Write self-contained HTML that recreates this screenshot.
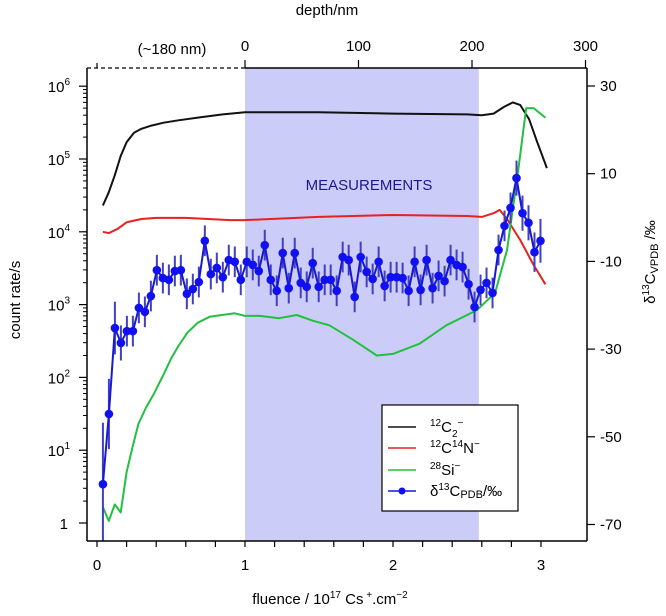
<!DOCTYPE html>
<html><head><meta charset="utf-8"><style>
body{margin:0;background:#fff;width:666px;height:611px;overflow:hidden}
svg{font-family:"Liberation Sans",sans-serif}
</style></head><body>
<svg id="chart" width="666" height="611"></svg>
<script>
const fluence = [];
const delta = [-60.8,-44.8,-25.2,-28.6,-25.9,-25.9,-20.6,-21.5,-17.9,-12,-13.8,-14.2,-12.2,-12,-17.4,-16.3,-14.7,-5.3,-12.9,-11.5,-13.6,-9.7,-10.1,-14.2,-10.1,-10.8,-12.2,-6.3,-14.2,-16.7,-8.1,-16.1,-8.1,-14.9,-15.8,-10.4,-15.8,-14.2,-14.2,-16.7,-9,-9.7,-18.1,-9,-12.4,-14,-10.1,-15.6,-13.6,-13.6,-13.8,-16.7,-10.1,-16.5,-9.7,-16.1,-13.3,-14.5,-9.7,-10.8,-11.3,-15.2,-20.4,-16.5,-14.9,-17.2,-7.4,-1.9,2.2,9,1,-1.2,-7.9,-5.3];
const deltaErr = [14,8,6,4,3.5,3.5,3.5,3.5,3.5,3.5,3.5,3.5,3.5,3.5,3.5,3.5,3.5,3.5,3.5,3.5,3.5,3.5,3.5,3.5,3.5,3.5,3.5,3.5,3.5,3.5,3.5,3.5,3.5,3.5,3.5,3.5,3.5,3.5,3.5,3.5,3.5,3.5,3.5,3.5,3.5,3.5,3.5,3.5,3.5,3.5,3.5,3.5,3.5,3.5,3.5,3.5,3.5,3.5,3.5,3.5,3.5,3.5,3.5,3.5,3.5,3.5,3.5,3.5,3.5,4,4,4,4.5,5];
for (let i=0;i<delta.length;i++) fluence.push(+(0.04+0.0405*i).toFixed(4));
const c2X = [0.04,0.08,0.12,0.16,0.2,0.25,0.3,0.36,0.45,0.55,0.7,0.85,1.0,1.5,2.0,2.5,2.6,2.68,2.75,2.81,2.86,2.92,2.97,3.04];
const c2Y = [2.3e4,3.5e4,6e4,1.1e5,1.7e5,2.3e5,2.6e5,2.85e5,3.15e5,3.4e5,3.75e5,4.1e5,4.4e5,4.4e5,4.2e5,4.1e5,4.0e5,4.2e5,5.2e5,6.0e5,5.5e5,3.5e5,1.8e5,7.5e4];
const cnX = [0.04,0.08,0.14,0.2,0.3,0.4,0.6,0.9,1.0,1.5,2.0,2.5,2.6,2.68,2.72,2.77,2.86,2.95,3.03];
const cnY = [1e4,9.6e3,1.1e4,1.35e4,1.5e4,1.55e4,1.55e4,1.45e4,1.45e4,1.6e4,1.7e4,1.65e4,1.6e4,1.8e4,2e4,1.5e4,7.7e3,3.5e3,1.9e3];
const siX = [0.04,0.08,0.12,0.16,0.2,0.24,0.28,0.33,0.385,0.45,0.5,0.55,0.61,0.68,0.76,0.93,1.0,1.1,1.23,1.35,1.46,1.57,1.73,1.89,2.0,2.18,2.36,2.54,2.57,2.69,2.77,2.84,2.9,2.95,3.03];
const siY = [1.65,1.07,1.8,1.4,5,11,23,38,60,110,180,270,410,560,680,760,700,700,650,720,600,520,330,200,210,290,520,790,850,1450,5600,5.6e4,5e5,5e5,3.7e5];
const xTicks = [0,1,2,3];
const depthTicks = [0,100,200,300];
const rightTicks = [30,10,-10,-30,-50,-70];

const svg = document.getElementById('chart');
const NS = 'http://www.w3.org/2000/svg';
const L=87,R=587,T=68,B=541;
const xs = f => 97 + f*148;
const ys = v => 523 - 72.8*Math.log10(v);
const yd = d => 86 + (30-d)*4.385;
const xdep = n => 245 + n*1.135;
function mk(tag, attrs, parent){const e=document.createElementNS(NS,tag);for(const k in attrs)e.setAttribute(k,attrs[k]);(parent||svg).appendChild(e);return e;}

let e;
e=mk('rect',{x:xs(1),y:T,width:xs(2.58)-xs(1),height:B-T,fill:'#ccccf8'});


e=mk('text',{x:369,y:190,'text-anchor':'middle','font-size':15,fill:'#1a1a8c'});e.textContent='MEASUREMENTS';



function line(xa,ya,color,name){
  let d='';for(let i=0;i<xa.length;i++)d+=(i?'L':'M')+xs(xa[i]).toFixed(1)+','+ys(ya[i]).toFixed(1);
  const p=mk('path',{d:d,fill:'none',stroke:color,'stroke-width':2,'stroke-linejoin':'round'});
  
  
}
line(c2X,c2Y,'#111','c2-line');
line(cnX,cnY,'#e82020','cn-line');
line(siX,siY,'#22c040','si-line');

const g=mk('g',{});


for(let i=0;i<delta.length;i++){
  const lo=Math.min(B,yd(delta[i]-deltaErr[i]));
  e=mk('line',{x1:xs(fluence[i]),x2:xs(fluence[i]),y1:yd(delta[i]+deltaErr[i]),y2:lo,stroke:'#4040c0','stroke-width':2},g);
  
  
}
let dd='';for(let i=0;i<delta.length;i++)dd+=(i?'L':'M')+xs(fluence[i]).toFixed(1)+','+yd(delta[i]).toFixed(1);
mk('path',{d:dd,fill:'none',stroke:'#1818d8','stroke-width':2},g);
for(let i=0;i<delta.length;i++){
  e=mk('circle',{cx:xs(fluence[i]),cy:yd(delta[i]),r:4.3,fill:'#1010f0'},g);
  
  
}

mk('line',{x1:L,y1:T,x2:L,y2:B,stroke:'#000','stroke-width':1.5});
mk('line',{x1:L,y1:B,x2:R,y2:B,stroke:'#000','stroke-width':1.5});
mk('line',{x1:R,y1:T,x2:R,y2:B,stroke:'#000','stroke-width':1.5});
mk('line',{x1:L,y1:T,x2:245,y2:T,stroke:'#000','stroke-width':1.2,'stroke-dasharray':'4,3'});
mk('line',{x1:245,y1:T,x2:R,y2:T,stroke:'#000','stroke-width':1.5});
mk('line',{x1:97,y1:T,x2:97,y2:T-5,stroke:'#000','stroke-width':1.2});

for(let f=0;f<=3.01;f+=0.2){mk('line',{x1:xs(f),x2:xs(f),y1:B,y2:B+6,stroke:'#000','stroke-width':1.2});}
xTicks.forEach(t=>{e=mk('text',{x:xs(t),y:570,'text-anchor':'middle','font-size':15});e.textContent=t;

});
e=mk('text',{x:330,y:604,'text-anchor':'middle','font-size':15});
e.innerHTML='fluence / 10<tspan dy="-6" font-size="10">17</tspan><tspan dy="6"> Cs</tspan><tspan dy="-6" font-size="10"> +</tspan><tspan dy="6">.cm</tspan><tspan dy="-6" font-size="10">−2</tspan>';



depthTicks.forEach(t=>{mk('line',{x1:xdep(t),x2:xdep(t),y1:T,y2:T-8,stroke:'#000','stroke-width':1.2});
e=mk('text',{x:xdep(t),y:51,'text-anchor':'middle','font-size':15});e.textContent=t;

});
e=mk('text',{x:172,y:54,'text-anchor':'middle','font-size':15});e.textContent='(~180 nm)';


e=mk('text',{x:327,y:15,'text-anchor':'middle','font-size':15});e.textContent='depth/nm';



for(let p=0;p<=6;p++){
  mk('line',{x1:L-8,x2:L,y1:ys(Math.pow(10,p)),y2:ys(Math.pow(10,p)),stroke:'#000','stroke-width':1.2});
  if(p<6)for(let k=2;k<10;k++){const y=ys(k*Math.pow(10,p));mk('line',{x1:L-4,x2:L,y1:y,y2:y,stroke:'#000','stroke-width':1});}
  e=mk('text',{x:68,y:ys(Math.pow(10,p))+6,'text-anchor':'end','font-size':15});
  if(p===0){e.textContent='1';}
  else {e.setAttribute('x',70);e.innerHTML='10<tspan dy="-7" font-size="10">'+p+'</tspan>';}
  
  
}
e=mk('text',{x:0,y:0,'text-anchor':'middle','font-size':15,transform:'translate(20,300) rotate(-90)'});e.textContent='count rate/s';



rightTicks.forEach(t=>{mk('line',{x1:R,x2:R+8,y1:yd(t),y2:yd(t),stroke:'#000','stroke-width':1.2});
e=mk('text',{x:600,y:yd(t)+5,'font-size':15});e.textContent=(t<0?'-':'')+Math.abs(t);

});
e=mk('text',{x:0,y:0,'text-anchor':'middle','font-size':15,transform:'translate(655,262) rotate(-90)'});
e.innerHTML='δ<tspan dy="-6" font-size="10">13</tspan><tspan dy="6">C</tspan><tspan font-size="11" dy="3">VPDB</tspan><tspan dy="-3"> /‰</tspan>';



const lg=mk('g',{});


mk('rect',{x:382,y:405,width:136,height:106,fill:'#fff',stroke:'#000','stroke-width':1.2},lg);
const entries=[['#111','<tspan font-size="10" dy="-6">12</tspan><tspan dy="6">C</tspan><tspan font-size="10" dy="5">2</tspan><tspan font-size="10" dy="-11">−</tspan>'],
['#e82020','<tspan font-size="10" dy="-6">12</tspan><tspan dy="6">C</tspan><tspan font-size="10" dy="-6">14</tspan><tspan dy="6">N</tspan><tspan font-size="10" dy="-6">−</tspan>'],
['#22c040','<tspan font-size="10" dy="-6">28</tspan><tspan dy="6">Si</tspan><tspan font-size="10" dy="-6">−</tspan>'],
['#1818d8','δ<tspan font-size="10" dy="-6">13</tspan><tspan dy="6">C</tspan><tspan font-size="11" dy="2">PDB</tspan><tspan dy="-2">/‰</tspan>']];
const ry=[427,448,470,491];
entries.forEach((en,i)=>{
  mk('line',{x1:388,x2:416,y1:ry[i],y2:ry[i],stroke:en[0],'stroke-width':1.5},lg);
  if(i===3)mk('circle',{cx:402,cy:ry[i],r:3.5,fill:'#1010f0'},lg);
  e=mk('text',{x:430,y:ry[i]+5,'font-size':15},lg);e.innerHTML=en[1];
  
  
});
</script>
</body></html>
